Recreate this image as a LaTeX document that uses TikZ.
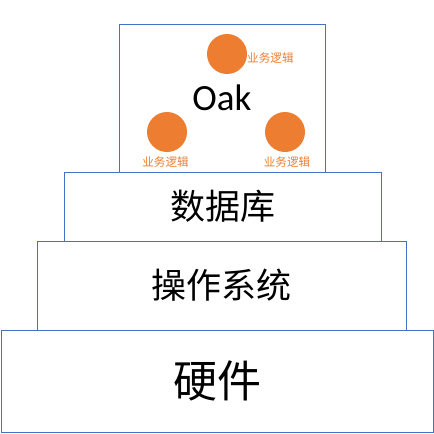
\documentclass[tikz,border=0pt]{standalone}
\usepackage{fontspec}
\setmainfont{Carlito}
\newfontfamily\cjk{Noto Sans CJK SC}
\definecolor{layerblue}{HTML}{4472C4}
\definecolor{logicorange}{HTML}{ED7D31}
\tikzset{
  layer/.style={draw=layerblue,line width=1pt,inner sep=0pt},
  logic/.style={circle,fill=logicorange,minimum size=40pt,inner sep=0pt},
  logictext/.style={text=logicorange,inner sep=0pt,font=\cjk\fontsize{11.6}{11.6}\selectfont}
}

\begin{document}
\begin{tikzpicture}[x=1pt,y=-1pt]
\useasboundingbox (0,0) rectangle (434,434);
% stack of layers, bottom up
\node[layer,minimum width=432pt,minimum height=102pt,font=\cjk\fontsize{44}{44}\selectfont] (hw) at (217,381) {硬件};
\node[layer,minimum width=369pt,minimum height=89pt,font=\cjk\fontsize{35}{35}\selectfont] (os) at (221.5,285.5) {操作系统};
\node[layer,minimum width=317pt,minimum height=69pt,font=\cjk\fontsize{35}{35}\selectfont] (db) at (222.5,206.5) {数据库};
\node[layer,minimum width=206pt,minimum height=148pt,font=\fontsize{37}{37}\selectfont] (oak) at (222,98) {Oak};
% business logic inside Oak
\foreach \n/\cx/\cy in {top/227/54,left/167/132,right/285/132}
  \node[logic] (\n) at (\cx,\cy) {};
\node[logictext,anchor=west] (toplab) at (247,58) {业务逻辑};
\node[logictext] (leftlab) at (165.5,162.5) {业务逻辑};
\node[logictext] (rightlab) at (287,162.5) {业务逻辑};
\end{tikzpicture}
\end{document}
